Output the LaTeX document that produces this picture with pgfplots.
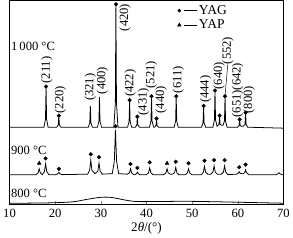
\documentclass[border=0pt]{standalone}
\usepackage{fontspec}
\setmainfont{Liberation Serif}
\usepackage{pgfplots}
\pgfplotsset{compat=1.18}
\begin{document}
\begin{tikzpicture}
\begin{axis}[
  width=283pt, height=211pt, scale only axis,
  xmin=10, xmax=70, ymin=0, ymax=211,
  axis line style={line width=0.8pt},
  xtick={10,20,...,70}, ytick=\empty,
  xtick pos=bottom, tick align=inside,
  major tick length=4pt,
  /pgf/number format/assume math mode=true,
  tick label style={font=\fontsize{13}{14}\selectfont},
  xticklabel style={yshift=-1pt},
  xlabel={2\textit{θ}/(°)},
  xlabel style={font=\fontsize{13.5}{14}\selectfont, yshift=2pt},
  legend style={draw=none, fill=none, at={(axis cs:46.7,208)}, anchor=north west,
    font=\fontsize{14}{14}\selectfont, inner sep=0pt, row sep=0pt,
    cells={anchor=west}},
  clip=false,
]
% legend entries
\addlegendimage{legend image code/.code={\fill (0pt,0pt) circle (1.7pt); \draw[line width=0.6pt] (5pt,0pt) -- (18pt,0pt);}}
\addlegendentry{YAG}
\addlegendimage{legend image code/.code={\fill (-1.9pt,-1.3pt) -- (1.9pt,-1.3pt) -- (0pt,2pt) -- cycle; \draw[line width=0.6pt] (5pt,0pt) -- (18pt,0pt);}}
\addlegendentry{YAP}

% 800 C
\addplot[black, line width=0.8pt, smooth, forget plot] coordinates {
(10,1.5)(15,1.6)(20,2)(24,3)(27,5.5)(30,7.6)(32,7.6)(34,6)(36,4.2)(38,3.2)(42,3.2)(46,3.4)(50,3.4)(55,3)(60,2.5)(65,2)(70,1.5)};

% 900 C
\addplot[black, line width=0.8pt, forget plot] coordinates {
(10,31)(15.8,31)(16.25,32.8)(16.5,37)(16.75,32.8)(17.2,31)(17.65,34.3)(17.9,42)(18.15,34.3)(18.6,31)
(20.1,31)(20.55,31.8)(20.8,33.5)(21.05,31.8)(21.5,31)
(27.1,31.5)(27.55,35.5)(27.8,46)(28.05,35.5)(28.7,32)(29.35,34.6)(29.6,43)(29.85,34.6)(30.3,31.5)
(32.5,32)(32.95,44.8)(33.2,77)(33.45,44.8)(33.9,32)
(35.8,31.5)(36.25,32.8)(36.5,37)(36.75,32.8)(37.2,31)
(37.5,31)(37.8,32)(38.0,33.5)(38.2,32)(38.5,31)
(40.0,31)(40.45,33)(40.7,38)(40.95,33)(41.4,31)
(43.8,31)(44.25,32.8)(44.5,37)(44.75,32.8)(45.2,31.5)
(45.7,31.5)(46.15,33)(46.4,38.5)(46.65,33)(47.1,31)
(48.5,31)(48.95,32.8)(49.2,37)(49.45,32.8)(49.9,31)
(52.0,31)(52.45,33.5)(52.7,39.5)(52.95,33.5)(53.4,31.5)
(54.1,31.5)(54.55,33.7)(54.8,40)(55.05,33.7)(55.5,31.5)
(56.4,31.5)(56.85,33.7)(57.1,40)(57.35,33.7)(57.8,31)
(59.7,31.5)(60.1,32.5)(60.3,34)(60.5,32.5)(60.9,32)
(61.2,32)(61.5,33)(61.7,36)(61.9,33)(62.4,31)
(68.4,31)(68.8,32)(69.0,33)(69.2,32)(69.6,31)(70,31)};

% 1000 C
\addplot[black, line width=0.8pt, forget plot] coordinates {
(10,80)(17.55,80)(17.88,88.4)(18.0,122)(18.12,88.4)(18.45,80)
(20.35,80)(20.68,82.4)(20.8,92)(20.92,82.4)(21.25,80)
(27.25,80)(27.58,84.4)(27.7,102)(27.82,84.4)(28.15,80)
(29.25,80)(29.58,86.2)(29.7,111)(29.82,86.2)(30.15,80)
(32.85,80)(33.18,105.4)(33.3,207)(33.42,105.4)(33.75,80)
(35.85,80)(36.18,85.6)(36.3,108)(36.42,85.6)(36.75,80)
(37.55,80)(37.88,82.2)(38.0,91)(38.12,82.2)(38.45,80)
(40.65,80)(40.98,86.4)(41.1,112)(41.22,86.4)(41.55,80)
(41.75,80)(42.08,81.8)(42.2,89)(42.32,81.8)(42.65,80)
(46.05,80)(46.38,86.4)(46.5,112)(46.62,86.4)(46.95,80)
(52.05,80)(52.38,84.4)(52.5,102)(52.62,84.4)(52.95,80)
(54.55,80)(54.88,87.6)(55.0,118)(55.12,87.6)(55.45,81)
(55.88,83)(56.0,92)(56.12,83)(56.5,82)(56.75,82)
(57.08,86.4)(57.2,112)(57.32,86.4)(57.65,80)
(59.95,80)(60.28,81.6)(60.4,88)(60.52,81.6)(60.8,81)
(61.2,81)(61.58,83)(61.7,95)(61.82,83)(62.15,80)(70,79)};

% markers YAG
\addplot[only marks, mark=*, mark size=1.9pt, black, forget plot] coordinates {
(18.0,122)(20.8,92)(33.3,207)(36.3,108)(38.0,91)(41.1,112)(42.2,89)(46.5,112)(52.5,102)(55.0,118)(56.0,92)(57.2,112)(60.4,88)(61.7,95)
(17.9,47.7)(20.8,37)(27.8,52)(29.6,49)(33.2,81)(36.5,42)(38.0,38)(40.7,43.7)(46.4,44.3)(49.2,42.7)(52.7,45.3)(54.8,46)(57.1,46)(60.3,38.7)(61.7,41.3)};
% markers YAP
\addplot[only marks, mark=triangle*, mark size=2.3pt, black, forget plot] coordinates {
(16.5,42.7)(44.5,42.7)};

% temperature labels
\node[anchor=west, inner sep=0pt, font=\fontsize{13}{14}\selectfont] at (axis cs:10.3,164) {1\,000\ °C};
\node[anchor=west, inner sep=0pt, font=\fontsize{13}{14}\selectfont] at (axis cs:10.3,56) {900\ °C};
\node[anchor=west, inner sep=0pt, font=\fontsize{13}{14}\selectfont] at (axis cs:10.3,12) {800\ °C};

% Miller indices
\begin{scope}[every node/.style={rotate=90, anchor=west, inner sep=0pt, font=\fontsize{13}{14}\selectfont}]
\node at (axis cs:18.16,125) {(211)};
\node at (axis cs:21.13,94) {(220)};
\node at (axis cs:27.70,107) {(321)};
\node at (axis cs:30.35,114) {(400)};
\node at (axis cs:35.33,179) {(420)};
\node at (axis cs:36.45,111) {(422)};
\node at (axis cs:39.36,92) {(431)};
\node at (axis cs:41.06,120) {(521)};
\node at (axis cs:43.18,94) {(440)};
\node at (axis cs:46.99,115) {(611)};
\node at (axis cs:52.93,105) {(444)};
\node at (axis cs:55.90,119) {(640)};
\node at (axis cs:57.81,145) {(552)};
\node at (axis cs:59.93,90) {(651)(642)};
\node at (axis cs:62.47,94) {(800)};
\end{scope}
\draw[line width=0.5pt] (axis cs:57.81,145) -- (axis cs:57.2,113);
\end{axis}
\end{tikzpicture}
\end{document}
